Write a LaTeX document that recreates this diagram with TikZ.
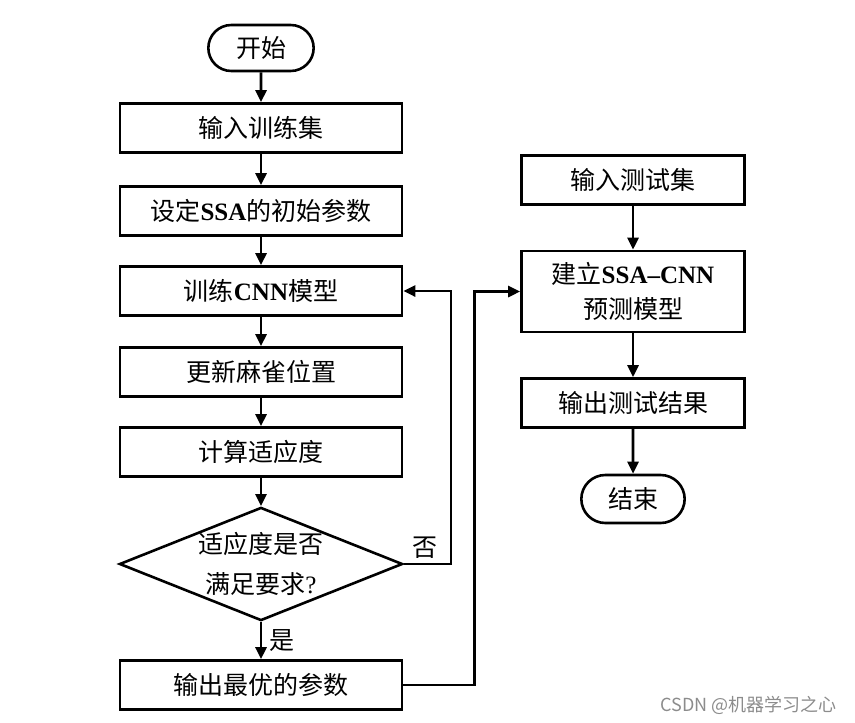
\documentclass[tikz,border=0pt]{standalone}
\usepackage{fontspec}
\setmainfont{Noto Sans CJK SC}
\newfontfamily\lat{Liberation Serif}
\usetikzlibrary{arrows.meta,positioning,shapes.geometric,shapes.misc}

\tikzset{
  box/.style={draw, line width=2.6pt, minimum width=282pt, minimum height=49pt,
    inner sep=2pt, align=center, font=\fontsize{25}{35}\selectfont},
  rbox/.style={box, minimum width=223pt},
  term/.style={draw, rounded rectangle, line width=2.6pt, minimum width=112pt,
    minimum height=46pt, font=\fontsize{25}{29}\selectfont},
  check/.style={draw, diamond, aspect=2.5, line width=2.6pt, minimum width=282pt,
    minimum height=112pt, inner sep=0pt, align=center, font=\fontsize{25}{40}\selectfont},
  flow/.style={line width=2.6pt, -{Triangle[length=12pt,width=11pt]}},
  lbl/.style={font=\fontsize{25}{29}\selectfont}
}

\begin{document}
\begin{tikzpicture}[x=1pt, y=-1pt]
\useasboundingbox (0,0) rectangle (855,723);

%%%%%%%%%%%%%%%%% left column
\node[term] (start) at (261,48) {开始};
\node[box] (trainset) at (261,128) {输入训练集};
\node[box] (initssa) at (261,211) {设定{\lat\bfseries SSA}的初始参数};
\node[box] (traincnn) at (261,291) {训练{\lat\bfseries CNN}模型};
\node[box] (update) at (261,372) {更新麻雀位置};
\node[box] (fitness) at (261,452) {计算适应度};
\node[check] (ok) at (261,564) {适应度是否\\满足要求{\lat ?}};
\node[box] (best) at (261,685) {输出最优的参数};

%%%%%%%%%%%%%%%%% right column
\node[rbox] (testset) at (633,180) {输入测试集};
\node[rbox, minimum height=81pt] (model) at (633,291.5) {建立{\lat\bfseries SSA–CNN}\\预测模型};
\node[rbox] (result) at (633,403) {输出测试结果};
\node[term, minimum width=110pt, minimum height=48pt] (stop) at (633,499) {结束};

%%%%%%%%%%%%%%%%% arrows
\draw[flow] (start) -- (trainset);
\draw[flow] (trainset) -- (initssa);
\draw[flow] (initssa) -- (traincnn);
\draw[flow] (traincnn) -- (update);
\draw[flow] (update) -- (fitness);
\draw[flow] (fitness) -- (ok);
\draw[flow] (ok) -- node[lbl, right=4pt] {是} (best);
\draw[flow] (ok.east) -- node[lbl, above=1pt, pos=0.45] {否} ++(47,0) |- (traincnn.east);
\draw[flow] (best.east) -- ++(71,0) |- (model.west);
\draw[flow] (testset) -- (model);
\draw[flow] (model) -- (result);
\draw[flow] (result) -- (stop);

\node[anchor=east, text=black!45, font=\fontsize{18}{22}\selectfont] (mark) at (840,705) {CSDN @机器学习之心};
\end{tikzpicture}
\end{document}
